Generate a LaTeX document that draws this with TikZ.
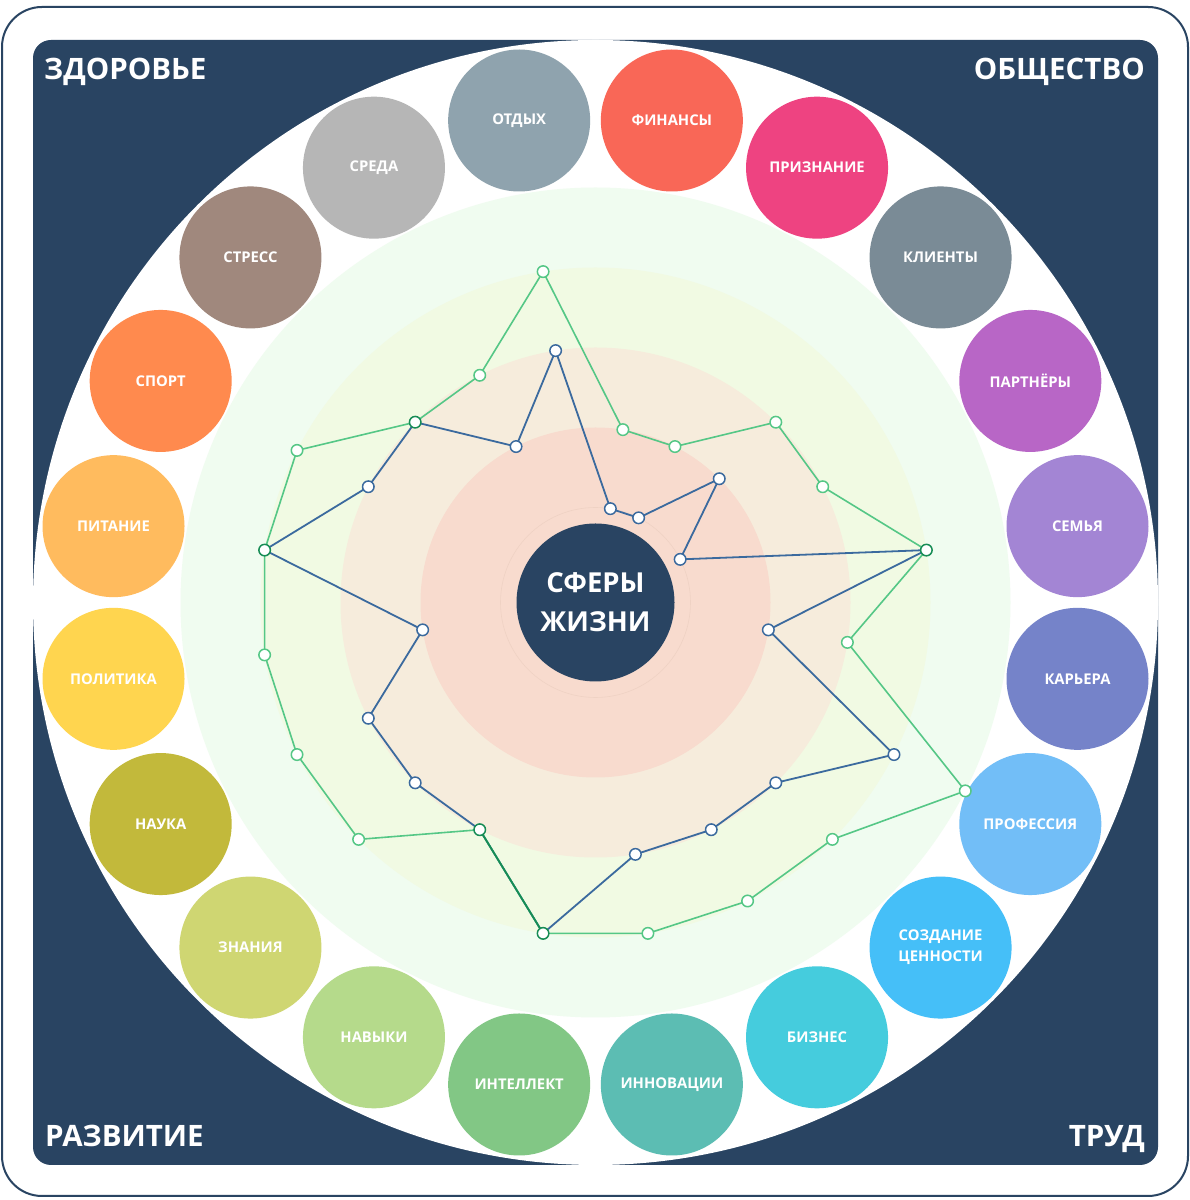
\documentclass[tikz,border=0pt]{standalone}
\usepackage{fontspec}
\setmainfont{Open Sans}
\definecolor{navy}{HTML}{294462}
\definecolor{ringA}{HTML}{F0FCF0}
\definecolor{ringB}{HTML}{F1FAE3}
\definecolor{ringC}{HTML}{F6ECDC}
\definecolor{ringD}{HTML}{F8DBCE}
\definecolor{ringE}{HTML}{EFD2C4}
\definecolor{lgreen}{HTML}{55C786}
\definecolor{lblue}{HTML}{3B6A9E}
\definecolor{dgreen}{HTML}{178C55}
\definecolor{c1}{HTML}{8FA3AE}
\definecolor{c2}{HTML}{F96757}
\definecolor{c3}{HTML}{EE4381}
\definecolor{c4}{HTML}{7A8B96}
\definecolor{c5}{HTML}{B866C6}
\definecolor{c6}{HTML}{A385D4}
\definecolor{c7}{HTML}{7583C9}
\definecolor{c8}{HTML}{72BEF7}
\definecolor{c9}{HTML}{45BFF8}
\definecolor{c10}{HTML}{45CCDD}
\definecolor{c11}{HTML}{5CBDB3}
\definecolor{c12}{HTML}{82C785}
\definecolor{c13}{HTML}{B5DA8B}
\definecolor{c14}{HTML}{CFD672}
\definecolor{c15}{HTML}{C2B93B}
\definecolor{c16}{HTML}{FFD54F}
\definecolor{c17}{HTML}{FFBB5E}
\definecolor{c18}{HTML}{FF8A4E}
\definecolor{c19}{HTML}{A0887D}
\definecolor{c20}{HTML}{B6B6B6}
\begin{document}
\begin{tikzpicture}[x=1pt,y=1pt,
  bubble/.style={circle, minimum size=142pt, inner sep=0pt, text=white,
    font=\bfseries\fontsize{14.8}{21}\selectfont, align=center},
  gline/.style={draw=lgreen, line width=1.6pt, line join=round},
  bline/.style={draw=lblue, line width=1.8pt, line join=round},
  sline/.style={draw=dgreen, line width=1.8pt, line join=round},
  mk/.style={circle, fill=white, line width=1.5pt, minimum size=11.5pt, inner sep=0pt},
  gmark/.style={mk, draw=lgreen},
  bmark/.style={mk, draw=lblue},
  smark/.style={mk, draw=dgreen},
  corner/.style={text=white, font=\bfseries\fontsize{29.5}{34}\selectfont, inner sep=0pt},
]
\useasboundingbox (0,0) rectangle (1190,1200);
\fill[white] (0,0) rectangle (1190,1200);
\draw[navy, line width=2pt, rounded corners=40pt] (2,4) rectangle (1188,1193);
\fill[navy, rounded corners=18pt] (33,35) rectangle (1158,1160);
\coordinate (C) at (595.5,597.5);
\fill[white] (C) circle (562.5);
\fill[ringA] (C) circle (415);
\fill[ringB] (C) circle (335);
\fill[ringC] (C) circle (255);
\fill[ringD] (C) circle (175);
\draw[ringE, line width=0.6pt] (C) circle (95);
\node[circle, fill=navy, minimum size=158pt, inner sep=0pt] (core) at (C) {};
\node[text=white, font=\bfseries\fontsize{27.5}{39}\selectfont, align=center] (coretext) at (C) {СФЕРЫ\\ЖИЗНИ};

\foreach \i/\c/\t in {1/c1/ОТДЫХ, 2/c2/ФИНАНСЫ, 3/c3/ПРИЗНАНИЕ, 4/c4/КЛИЕНТЫ,
  5/c5/ПАРТНЁРЫ, 6/c6/СЕМЬЯ, 7/c7/КАРЬЕРА, 8/c8/ПРОФЕССИЯ,
  9/c9/{СОЗДАНИЕ\\ЦЕННОСТИ}, 10/c10/БИЗНЕС, 11/c11/ИННОВАЦИИ, 12/c12/ИНТЕЛЛЕКТ,
  13/c13/НАВЫКИ, 14/c14/ЗНАНИЯ, 15/c15/НАУКА, 16/c16/ПОЛИТИКА,
  17/c17/ПИТАНИЕ, 18/c18/СПОРТ, 19/c19/СТРЕСС, 20/c20/СРЕДА}
  {\path (C) ++({99-18*(\i-1)}:488) node[bubble, fill=\c] (s\i) {\t};}

\foreach \i/\v in {1/4,2/2,3/2,4/3,5/3,6/4,7/3,8/5,9/4,10/4,11/4,12/4,13/3,14/4,15/4,16/4,17/4,18/4,19/3,20/3}
  {\path (C) ++({99-18*(\i-1)}:{15+80*\v}) coordinate (g\i);}
\foreach \i/\v in {1/3,2/1,3/1,4/2,5/1,6/4,7/2,8/4,9/3,10/3,11/3,12/4,13/3,14/3,15/3,16/2,17/4,18/3,19/3,20/2}
  {\path (C) ++({99-18*(\i-1)}:{15+80*\v}) coordinate (b\i);}

\draw[bline] (b1) \foreach \i in {2,...,20}{ -- (b\i)} -- cycle;
\draw[gline] (g1) \foreach \i in {2,...,20}{ -- (g\i)} -- cycle;
\draw[sline] (g12) -- (g13);

\foreach \i in {1,2,3,4,5,7,8,9,10,11,14,15,16,18,20}
  {\node[bmark] (bm\i) at (b\i) {}; \node[gmark] (gm\i) at (g\i) {};}
\foreach \i in {6,12,13,17,19}
  {\node[smark] (sm\i) at (g\i) {};}

\node[corner, anchor=base west] (tl) at (44,1120) {ЗДОРОВЬЕ};
\node[corner, anchor=base east] (tr) at (1145,1120) {ОБЩЕСТВО};
\node[corner, anchor=base west] (bl) at (45,53) {РАЗВИТИЕ};
\node[corner, anchor=base east] (br) at (1145,53) {ТРУД};
\end{tikzpicture}
\end{document}
